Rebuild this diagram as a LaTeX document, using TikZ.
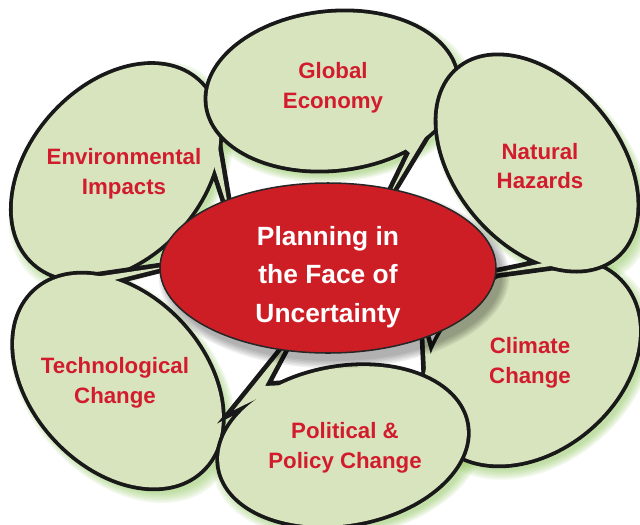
\documentclass[tikz,border=0pt]{standalone}
\usepackage{fontspec}
\setmainfont{Liberation Sans}

\definecolor{leafgreen}{RGB}{215,228,189}
\definecolor{glowgreen}{RGB}{140,195,90}
\definecolor{corered}{RGB}{205,30,38}
\definecolor{tagred}{RGB}{210,28,46}

\begin{document}
\begin{tikzpicture}[x=0.03cm, y=-0.03cm,
    rim/.style={draw=black!90, line width=6.5pt, line join=miter},
    leaf/.style={fill=leafgreen},
    hub/.style={draw=black!85, line width=1.3pt, fill=corered},
    tag/.style={text=tagred, align=center, font=\fontsize{19}{25.5}\selectfont\bfseries},
    core/.style={text=white, align=center, font=\fontsize{22.5}{33}\selectfont\bfseries}]
  \useasboundingbox (0,0) rectangle (640,524);

  % bubbles: centre x / centre y / tilt / radii / pointer
  \def\pods{116/172/48/122/85/{(214,124) -- (229,212) -- (214,166) -- (200,160) -- cycle},
    118/381/-47/122/85/{(88,278) -- (170,266) -- (110,281) -- (120,292) -- cycle},
    531/362/40/120/88/{(427,392) -- (424,330) -- (434,366) -- (456,316) -- cycle},
    343/446/10/125/78/{(234,410) -- (288,343) -- (265,386) -- (285,385) -- cycle},
    332/91/6/125/78/{(428,132) -- (388,198) -- (410,153) -- (395,140) -- cycle},
    537/163/-50/122/80/{(580,262) -- (485,275) -- (548,262) -- (560,250) -- cycle}}

  % soft green glow behind every bubble
  \foreach \x/\y/\a/\ra/\rb/\t in \pods
    \foreach \g in {0,...,5}
      \fill[glowgreen, opacity=0.12, shift={(\x+5,\y+6)}, rotate=\a, scale=1+0.018*\g]
        (0,0) ellipse [x radius=\ra, y radius=\rb];

  % bubbles with their pointers (outline first, then the fill on top)
  \foreach \x/\y/\a/\ra/\rb/\t in \pods {
    \draw[rim, line width=8pt] \t;
    \draw[rim, shift={(\x,\y)}, rotate=\a] (0,0) ellipse [x radius=\ra, y radius=\rb];
    \fill[leaf] \t;
    \fill[leaf, shift={(\x,\y)}, rotate=\a] (0,0) ellipse [x radius=\ra, y radius=\rb];
  }

  % centre ellipse and its shadow
  \foreach \g in {0,...,5}
    \fill[black, opacity=0.06] (334,276) ellipse [x radius=168+1.5*\g, y radius=85+1.5*\g];
  \draw[hub] (328,268) ellipse [x radius=168, y radius=85];

  % Labels
  \node[core] (plan) at (328,277) {Planning in\\the Face of\\Uncertainty};
  \node[tag] (econ) at (333,88) {Global\\Economy};
  \node[tag] (hazards) at (540,166) {Natural\\Hazards};
  \node[tag] (climate) at (530,363) {Climate\\Change};
  \node[tag] (policy) at (345,448) {Political \&\\Policy Change};
  \node[tag] (tech) at (115,383) {Technological\\Change};
  \node[tag] (env) at (124,174) {Environmental\\Impacts};
\end{tikzpicture}
\end{document}
